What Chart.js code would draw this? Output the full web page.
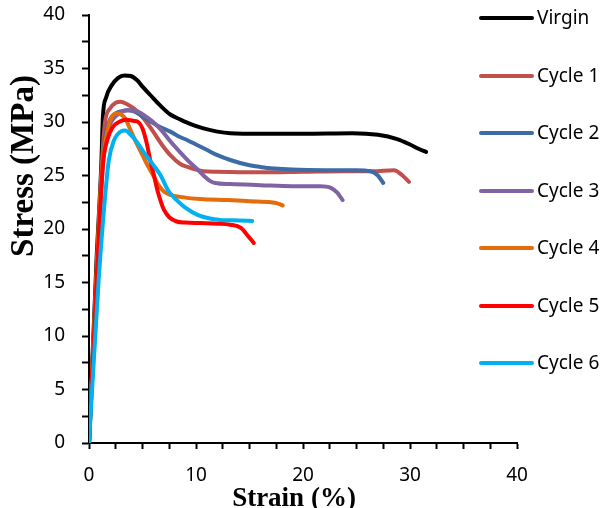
<!DOCTYPE html>
<html>
<head>
<meta charset="utf-8">
<script src="https://cdn.jsdelivr.net/npm/chart.js@4.4.1/dist/chart.umd.min.js"></script>
<style>
  html, body { margin: 0; padding: 0; background: #ffffff; }
  #wrap { width: 608px; height: 508px; position: relative; }
</style>
</head>
<body>
<div id="wrap"><canvas id="c" width="608" height="508"></canvas></div>
<script>
// ---- Data ----
const seriesNames = ['Virgin', 'Cycle 1', 'Cycle 2', 'Cycle 3', 'Cycle 4', 'Cycle 5', 'Cycle 6'];

const virginStrain = [0, 0.7, 1.15, 1.3, 1.6, 2.1, 2.7, 3.3, 3.9, 4.5, 5.0, 5.75, 6.6, 7.6, 8.6, 9.5, 10.7, 12, 13.2, 16, 20, 24.6, 27, 28.8, 30, 30.8, 31.5];
const virginStress = [0, 17, 26, 30.5, 32.3, 33.4, 34.1, 34.35, 34.3, 33.9, 33.3, 32.5, 31.6, 30.7, 30.2, 29.8, 29.4, 29.1, 28.95, 28.9, 28.9, 28.95, 28.8, 28.4, 27.9, 27.5, 27.2];

const cycle1Strain = [0, 0.75, 1.2, 1.5, 2.0, 2.5, 2.95, 3.5, 4.5, 5.2, 6.0, 6.8, 7.6, 8.5, 9.2, 10.0, 10.7, 12, 16, 20, 24, 26.5, 28.5, 29.3, 29.9];
const cycle1Stress = [0, 16, 26, 30, 31.3, 31.8, 31.9, 31.7, 31.0, 30.2, 29.1, 27.9, 26.9, 26.1, 25.8, 25.55, 25.4, 25.35, 25.3, 25.35, 25.4, 25.4, 25.5, 25.0, 24.4];

const cycle2Strain = [0, 0.75, 1.25, 1.6, 2.0, 2.5, 3.0, 3.6, 4.2, 4.8, 5.5, 6.5, 7.6, 8.5, 9.2, 10, 11, 12, 13.2, 14.8, 16, 17.3, 19, 22, 25, 26.3, 27, 27.5];
const cycle2Stress = [0, 16, 26, 29, 30.3, 30.8, 31.0, 31.1, 31.0, 30.65, 30.2, 29.6, 29.1, 28.6, 28.3, 27.9, 27.4, 26.9, 26.45, 26.0, 25.8, 25.65, 25.55, 25.5, 25.5, 25.4, 25.0, 24.3];

const cycle3Strain = [0, 0.75, 1.3, 1.7, 2.2, 2.8, 3.6, 4.5, 5.2, 6.0, 6.8, 7.6, 8.4, 9.2, 10.0, 10.7, 11.3, 11.8, 13.2, 16, 19, 21.6, 22.6, 23.2, 23.7];
const cycle3Stress = [0, 16, 26, 29, 30.2, 30.8, 31.1, 31.0, 30.6, 30.0, 29.2, 28.2, 27.3, 26.45, 25.7, 25.0, 24.5, 24.3, 24.2, 24.1, 24.0, 24.0, 23.85, 23.4, 22.7];

const cycle4Strain = [0, 0.7, 1.2, 1.6, 2.0, 2.5, 3.0, 3.4, 3.9, 4.5, 5.0, 5.5, 6.0, 6.5, 7.0, 7.6, 8.5, 10.4, 13, 15, 17, 17.6, 18.1];
const cycle4Stress = [0, 16, 25.5, 28.5, 30.2, 30.8, 30.7, 30.3, 29.2, 27.9, 26.9, 25.9, 25.0, 24.1, 23.5, 23.2, 23.0, 22.8, 22.7, 22.6, 22.5, 22.4, 22.2];

const cycle5Strain = [0, 0.75, 1.3, 1.7, 2.2, 2.8, 3.5, 4.2, 4.6, 5.0, 5.4, 5.75, 6.1, 6.4, 6.7, 7.0, 7.5, 8.2, 9.0, 10.4, 12, 13.2, 14.2, 14.9, 15.4];
const cycle5Stress = [0, 16, 26, 28.3, 29.5, 30.0, 30.2, 30.1, 30.0, 29.4, 28.0, 26.3, 24.9, 23.6, 22.6, 21.8, 21.1, 20.7, 20.6, 20.55, 20.5, 20.4, 20.1, 19.3, 18.7];

const cycle6Strain = [0, 0.9, 1.5, 1.85, 2.3, 2.95, 3.4, 3.9, 4.5, 5.1, 6.0, 6.7, 7.4, 8.2, 9.0, 10.2, 11.2, 12.3, 14, 15.25];
const cycle6Stress = [0, 15.2, 23, 26.4, 28.2, 29.1, 29.2, 28.8, 28.1, 27.2, 26.0, 25.0, 23.6, 22.7, 22.0, 21.3, 21.0, 20.85, 20.8, 20.75];

const xTickValues = [0, 10, 20, 30, 40];
const yTickValues = [0, 5, 10, 15, 20, 25, 30, 35, 40];
const xTitle = 'Strain (%)';
const yTitle = 'Stress (MPa)';

// ---- Styling ----
const colors = ['#000000', '#C0504D', '#3D6BA5', '#8064A2', '#E46C0A', '#FF0000', '#00B0F0'];
const strains = [virginStrain, cycle1Strain, cycle2Strain, cycle3Strain, cycle4Strain, cycle5Strain, cycle6Strain];
const stresses = [virginStress, cycle1Stress, cycle2Stress, cycle3Stress, cycle4Stress, cycle5Stress, cycle6Stress];

function pts(xs, ys) { return xs.map((x, i) => ({ x: x, y: ys[i] })); }

const datasets = seriesNames.map((name, i) => ({
  label: name,
  data: pts(strains[i], stresses[i]),
  borderColor: colors[i],
  backgroundColor: colors[i],
  borderWidth: 4,
  pointRadius: 0,
  showLine: true,
  fill: false,
  cubicInterpolationMode: 'monotone',
  borderCapStyle: 'round',
  borderJoinStyle: 'round',
  order: seriesNames.length - 1 - i
}));

const labelFont = { family: "'Noto Sans', 'Liberation Sans', sans-serif", size: 19 };

const customDecor = {
  id: 'customDecor',
  afterDraw(chart) {
    const ctx = chart.ctx;
    ctx.save();
    // legend
    const ys = [18, 76, 133, 191, 248, 306, 363];
    chart.data.datasets.forEach((ds, i) => {
      const y = ys[i];
      ctx.strokeStyle = ds.borderColor;
      ctx.lineWidth = 4;
      ctx.lineCap = 'round';
      ctx.beginPath();
      ctx.moveTo(481, y);
      ctx.lineTo(532, y);
      ctx.stroke();
      ctx.fillStyle = '#000000';
      ctx.font = "19px 'Noto Sans', 'Liberation Sans', sans-serif";
      ctx.textAlign = 'left';
      ctx.textBaseline = 'middle';
      ctx.fillText(ds.label, 537, y + 1);
    });
    // axis titles
    ctx.fillStyle = '#000000';
    ctx.font = "bold 27px 'Liberation Serif', 'Times New Roman', serif";
    ctx.textAlign = 'center';
    ctx.textBaseline = 'alphabetic';
    ctx.fillText(xTitle, 294, 506);
    ctx.translate(33, 166);
    ctx.rotate(-Math.PI / 2);
    ctx.font = "bold 33px 'Liberation Serif', 'Times New Roman', serif";
    ctx.fillText(yTitle, 0, 0);
    ctx.restore();
  }
};

new Chart(document.getElementById('c'), {
  type: 'scatter',
  data: { datasets: datasets },
  options: {
    responsive: false,
    animation: false,
    events: [],
    layout: { padding: { top: 15, right: 91, left: 0, bottom: 0 } },
    plugins: {
      legend: { display: false },
      tooltip: { enabled: false },
      title: { display: false }
    },
    scales: {
      x: {
        type: 'linear',
        min: 0, max: 40,
        afterFit(scale) { scale.height = 65; scale.paddingLeft = 0; scale.paddingRight = 0; },
        border: { color: '#000000', width: 2 },
        grid: { drawOnChartArea: false, drawTicks: true, tickLength: 6, tickColor: '#000000', tickWidth: 2 },
        ticks: {
          stepSize: 2.5,
          autoSkip: false,
          maxRotation: 0,
          padding: 15,
          color: '#000000',
          font: labelFont,
          callback: (v) => xTickValues.includes(v) ? String(v) : ''
        }
      },
      y: {
        type: 'linear',
        min: 0, max: 40,
        afterFit(scale) { scale.width = 89; scale.paddingTop = 0; scale.paddingBottom = 0; },
        border: { color: '#000000', width: 2 },
        grid: { drawOnChartArea: false, drawTicks: true, tickLength: 7, tickColor: '#000000', tickWidth: 2 },
        ticks: {
          stepSize: 2.5,
          autoSkip: false,
          padding: 17,
          color: '#000000',
          font: labelFont,
          callback: (v) => yTickValues.includes(v) ? String(v) : ''
        }
      }
    }
  },
  plugins: [customDecor]
});
</script>
</body>
</html>
